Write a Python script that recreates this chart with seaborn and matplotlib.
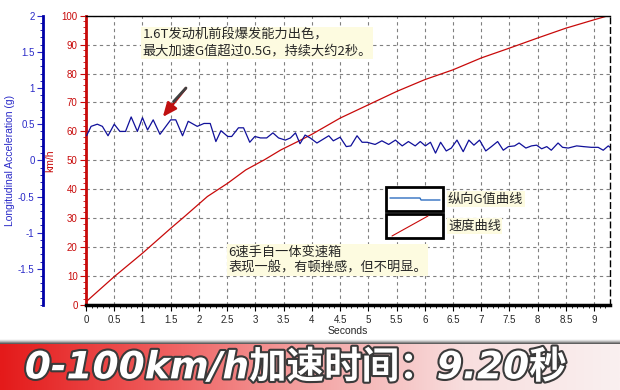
import numpy as np
import seaborn as sns
import matplotlib.pyplot as plt
import matplotlib.patheffects as pe
from matplotlib.patches import Rectangle
from matplotlib.lines import Line2D
from matplotlib.colors import LinearSegmentedColormap
from matplotlib.ticker import MultipleLocator, FixedLocator

sns.set_theme(style="white")
plt.rcParams['font.family'] = ['Liberation Sans', 'Noto Sans CJK SC', 'DejaVu Sans']
plt.rcParams['axes.unicode_minus'] = False

# speed curve (km/h)
speed_t = [0, 0.5, 1.0, 1.5, 1.74, 2.15, 2.51, 2.83, 3.16, 3.45, 3.75, 4.0,
           4.5, 5.0, 5.5, 6.0, 6.5, 7.0, 7.5, 8.0, 8.5, 9.0, 9.25]
speed_kmh = [1.1, 9.8, 17.9, 26.5, 30.5, 37.5, 42.1, 46.7, 50.2, 53.6, 56.5, 59.0,
             64.6, 69.2, 73.8, 77.9, 81.3, 85.4, 88.8, 92.3, 95.7, 98.6, 100.0]

# longitudinal acceleration (g)
accel_t = [0.01, 0.09, 0.20, 0.29, 0.39, 0.50, 0.60, 0.70, 0.80, 0.91,
           1.00, 1.09, 1.19, 1.31, 1.50, 1.59, 1.71, 1.81, 1.97, 2.09,
           2.20, 2.30, 2.39, 2.51, 2.58, 2.70, 2.79, 2.90, 2.99, 3.09,
           3.20, 3.31, 3.41, 3.53, 3.62, 3.71, 3.79, 3.88, 3.97, 4.09,
           4.30, 4.38, 4.50, 4.61, 4.69, 4.80, 4.89, 4.98, 5.12, 5.24,
           5.36, 5.48, 5.60, 5.71, 5.83, 5.92, 6.01, 6.10, 6.19, 6.28,
           6.38, 6.47, 6.57, 6.68, 6.78, 6.87, 6.97, 7.08, 7.18, 7.29,
           7.39, 7.48, 7.59, 7.67, 7.79, 7.89, 7.98, 8.07, 8.16, 8.24,
           8.36, 8.44, 8.54, 8.69, 8.81, 8.95, 9.07, 9.16, 9.25, 9.28]
accel_g = [0.34, 0.47, 0.50, 0.47, 0.34, 0.50, 0.40, 0.40, 0.60, 0.40,
           0.59, 0.42, 0.56, 0.36, 0.56, 0.56, 0.34, 0.54, 0.47, 0.51,
           0.51, 0.26, 0.41, 0.33, 0.33, 0.45, 0.45, 0.25, 0.33, 0.31,
           0.31, 0.38, 0.31, 0.28, 0.31, 0.38, 0.23, 0.35, 0.31, 0.24,
           0.34, 0.27, 0.32, 0.19, 0.20, 0.34, 0.25, 0.25, 0.22, 0.27,
           0.22, 0.28, 0.20, 0.26, 0.20, 0.26, 0.20, 0.25, 0.10, 0.25,
           0.13, 0.17, 0.28, 0.12, 0.28, 0.21, 0.28, 0.13, 0.19, 0.26,
           0.14, 0.19, 0.20, 0.24, 0.17, 0.20, 0.21, 0.16, 0.19, 0.14,
           0.24, 0.18, 0.17, 0.20, 0.19, 0.18, 0.18, 0.14, 0.20, 0.18]

x_ticks = [0, 0.5, 1, 1.5, 2, 2.5, 3, 3.5, 4, 4.5, 5, 5.5, 6, 6.5, 7, 7.5, 8, 8.5, 9]
g_ticks = [2, 1.5, 1, 0.5, 0, -0.5, -1, -1.5]

note_top = "1.6T发动机前段爆发能力出色，\n最大加速G值超过0.5G，持续大约2秒。"
note_bottom = "6速手自一体变速箱\n表现一般，有顿挫感，但不明显。"
legend_labels = ["纵向G值曲线", "速度曲线"]
banner = "0-100km/h加速时间：9.20秒"

RED = "#c80a0a"
BLUE = "#10109a"
CJK = ['Noto Sans CJK SC', 'DejaVu Sans']
NOTE_BG = dict(boxstyle="square,pad=0.1", fc="#fdfbe0", ec="none")

fig = plt.figure(figsize=(6.2, 3.9), dpi=100)
fig.patch.set_facecolor("white")
W, H = 620, 390
ax = fig.add_axes([86 / W, 1 - 305 / H, (610 - 86) / W, (305 - 15.7) / H])

# red speed axis
sns.lineplot(x=speed_t, y=speed_kmh, ax=ax, color=RED, lw=0.9, estimator=None)
ax.set_xlim(0, 9.28)
ax.set_ylim(0, 100)
ax.xaxis.set_major_locator(FixedLocator(x_ticks))
ax.set_xticklabels([f"{v:g}" for v in x_ticks])
ax.xaxis.set_minor_locator(MultipleLocator(0.1))
ax.yaxis.set_major_locator(MultipleLocator(10))
ax.yaxis.set_minor_locator(MultipleLocator(2))
ax.grid(True, which="major", color="#808080", lw=0.8, ls=(0, (3, 3)))
ax.tick_params(axis="x", which="major", direction="out", length=4, width=0.8,
               color="black", labelsize=7, pad=3, bottom=True)
ax.tick_params(axis="x", which="minor", direction="out", length=2, width=0.6,
               color="black", bottom=True)
ax.tick_params(axis="y", which="major", direction="out", length=4, width=0.8,
               colors=RED, labelsize=7, pad=2, left=True)
ax.tick_params(axis="y", which="minor", direction="out", length=2, width=0.6,
               color=RED, left=True)
ax.set_xlabel("Seconds", fontsize=7.5, labelpad=1)
ax.set_ylabel("km/h", fontsize=7.5, color=RED)
ax.yaxis.set_label_coords(-0.058, 0.5)
ax.spines["left"].set_color(RED)
ax.spines["left"].set_linewidth(2)
ax.spines["bottom"].set_color("black")
ax.spines["bottom"].set_linewidth(2.5)
ax.spines["top"].set_color("black")
ax.spines["top"].set_linewidth(1)
ax.spines["right"].set_color("black")
ax.spines["right"].set_linestyle((0, (4, 3)))
ax.spines["right"].set_linewidth(1)

# blue acceleration axis on the far left
ax2 = ax.twinx()
sns.lineplot(x=accel_t, y=accel_g, ax=ax2, color=BLUE, lw=0.9, estimator=None)
ax2.set_ylim(-2, 2)
ax2.yaxis.tick_left()
ax2.yaxis.set_label_position("left")
ax2.spines["left"].set_position(("outward", 31))
ax2.spines["left"].set_visible(True)
ax2.spines["left"].set_color("#0000a8")
ax2.spines["left"].set_linewidth(2)
for s in ["right", "top", "bottom"]:
    ax2.spines[s].set_visible(False)
ax2.yaxis.set_major_locator(FixedLocator(g_ticks))
ax2.set_yticklabels([f"{v:g}" for v in g_ticks])
ax2.yaxis.set_minor_locator(MultipleLocator(0.1))
ax2.tick_params(axis="y", which="major", direction="out", length=4, width=0.8,
                colors="#2a2ac8", labelsize=7, pad=2, left=True, right=False)
ax2.tick_params(axis="y", which="minor", direction="out", length=2, width=0.6,
                color="#0000a8", left=True, right=False)
ax2.set_ylabel("Longitudinal Acceleration (g)", fontsize=7.5, color="#2a2ac8")
ax2.yaxis.set_label_coords(-0.135, 0.5)
ax2.grid(False)

# notes
ax.text(1.0, 95.5, note_top, fontsize=9.5, family=CJK, va="top", ha="left",
        linespacing=1.25, bbox=NOTE_BG, zorder=5)
ax.text(2.52, 20.5, note_bottom, fontsize=9.5, family=CJK, va="top", ha="left",
        linespacing=1.25, bbox=NOTE_BG, zorder=5)

# arrow pointing at the peak
ax.annotate("", xy=(1.36, 65), xytext=(1.77, 75),
            arrowprops=dict(arrowstyle="-|>,head_length=0.7,head_width=0.3",
                            color="#c01010", lw=1.8, shrinkA=0, shrinkB=0), zorder=6)
ax.plot([1.77, 1.55], [75, 70.3], color="#404040", lw=2, solid_capstyle="round", zorder=7)

# boxed legend
box_rows = [(187, 211), (214, 238)]
for (top, bot), lab, col in zip(box_rows, legend_labels, ["#2f6fc0", RED]):
    fig.add_artist(Rectangle((386 / W, 1 - bot / H), 57 / W, (bot - top) / H,
                             transform=fig.transFigure, fill=True, fc="white",
                             ec="black", lw=2, zorder=8))
    fig.text(448 / W, 1 - (top + bot) / 2 / H, lab, fontsize=9.5, family=CJK,
             va="center", ha="left", bbox=NOTE_BG, zorder=8)
fig.add_artist(Line2D([390 / W, 420 / W, 421 / W, 440 / W],
                      [1 - 198 / H, 1 - 198 / H, 1 - 200 / H, 1 - 200 / H],
                      transform=fig.transFigure, color="#2f6fc0", lw=1, zorder=9))
fig.add_artist(Line2D([392 / W, 428 / W], [1 - 236 / H, 1 - 216 / H],
                      transform=fig.transFigure, color=RED, lw=0.8, zorder=9))

# bottom banner
cmap = LinearSegmentedColormap.from_list(
    "banner", ["#e41a1a", "#ee5a5a", "#f4a4a4", "#f8dede", "#faf0f0"])
bax = fig.add_axes([0, 0, 1, 46 / H])
bax.imshow(np.linspace(0, 1, 256)[None, :], aspect="auto", cmap=cmap,
           extent=[0, 1, 0, 1])
bax.set_axis_off()
sax = fig.add_axes([0, 46 / H, 1, 5 / H])
sax.imshow(np.linspace(0, 1, 32)[:, None], aspect="auto", cmap="Greys",
           vmin=0, vmax=1.3, extent=[0, 1, 0, 1])
sax.set_axis_off()
bax.text(0.04, 0.47, banner, transform=bax.transAxes, fontsize=27,
         family=['DejaVu Sans', 'Noto Sans CJK SC'], fontweight="bold",
         fontstyle="italic", color="white", va="center", ha="left",
         path_effects=[pe.withStroke(linewidth=3, foreground="#3a3a3a")])

fig.savefig("out.png", dpi=100)
